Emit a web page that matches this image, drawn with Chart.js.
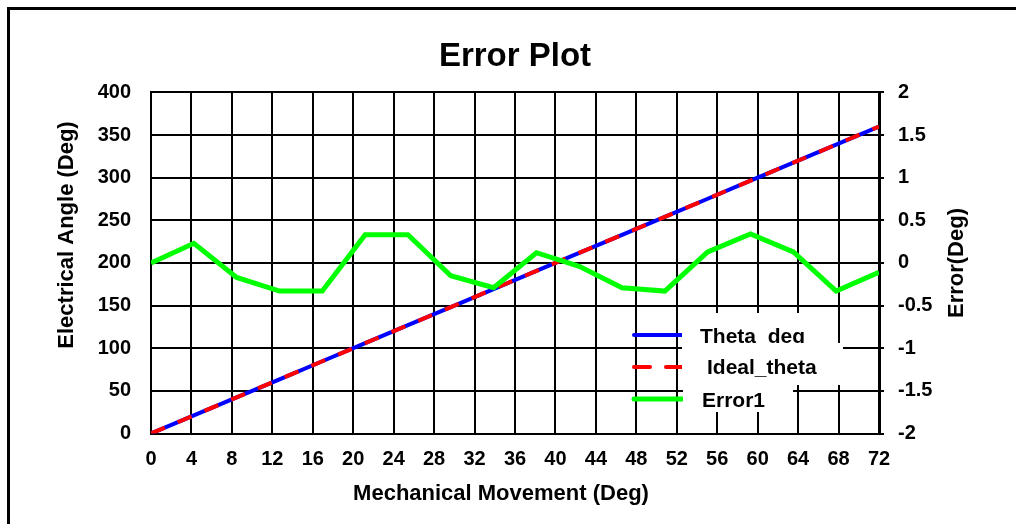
<!DOCTYPE html>
<html>
<head>
<meta charset="utf-8">
<script src="https://cdn.jsdelivr.net/npm/chart.js@4.4.1/dist/chart.umd.min.js"></script>
<style>
  body { margin: 0; background: #fff; }
  #errChart { display: block; }
</style>
</head>
<body>
<canvas id="errChart" width="1016" height="524"></canvas>
<script>
// mechanical movement (deg) - 18 samples across 0..72
const mechDeg = [0, 4.24, 8.47, 12.71, 16.94, 21.18, 25.41, 29.65, 33.88, 38.12, 42.35, 46.59, 50.82, 55.06, 59.29, 63.53, 67.76, 72];
const thetaDeg = [0, 21.2, 42.4, 63.5, 84.7, 105.9, 127.1, 148.2, 169.4, 190.6, 211.8, 232.9, 254.1, 275.3, 296.5, 317.6, 338.8, 360];
const idealTheta = [0, 21.2, 42.4, 63.5, 84.7, 105.9, 127.1, 148.2, 169.4, 190.6, 211.8, 232.9, 254.1, 275.3, 296.5, 317.6, 338.8, 360];
const error1 = [0.0, 0.23, -0.17, -0.33, -0.33, 0.33, 0.33, -0.15, -0.29, 0.12, -0.04, -0.29, -0.33, 0.13, 0.34, 0.13, -0.33, -0.11];

const seriesNames = ['Theta_deg', 'Ideal_theta', 'Error1'];
const seriesColors = ['#0000ff', '#ff0000', '#00ff00'];

const FONT = '"Liberation Sans", Arial, sans-serif';

function pts(ys) {
  return mechDeg.map(function(x, i) { return { x: x, y: ys[i] }; });
}

// frame + axis titles + legend drawn by hand
const extras = {
  id: 'extras',
  beforeDraw(chart) {
    const ctx = chart.ctx;
    ctx.save();
    ctx.fillStyle = '#fff';
    ctx.fillRect(0, 0, chart.width, chart.height);
    ctx.strokeStyle = '#000';
    ctx.lineWidth = 3;
    ctx.beginPath();
    ctx.moveTo(8.5, chart.height + 5);
    ctx.lineTo(8.5, 8.5);
    ctx.lineTo(chart.width + 5, 8.5);
    ctx.stroke();
    ctx.restore();
  },
  afterDraw(chart) {
    const ctx = chart.ctx;
    ctx.save();
    ctx.fillStyle = '#000';
    ctx.font = 'bold 22px ' + FONT;
    ctx.textAlign = 'center';
    ctx.textBaseline = 'middle';
    ctx.fillText('Mechanical Movement (Deg)', 501, 494);

    ctx.save();
    ctx.translate(67, 235);
    ctx.rotate(-Math.PI / 2);
    ctx.fillText('Electrical Angle (Deg)', 0, 0);
    ctx.restore();

    ctx.save();
    ctx.translate(957, 263);
    ctx.rotate(-Math.PI / 2);
    ctx.fillText('Error(Deg)', 0, 0);
    ctx.restore();

    // legend
    const rows = [
      { y: 335, mask: [682, 313, 153, 30], textX: 700, base: 343 },
      { y: 367, mask: [682, 343, 161, 42], textX: 707, base: 374 },
      { y: 399, mask: [683, 385, 110, 27], textX: 702, base: 407 }
    ];
    ctx.font = 'bold 21px ' + FONT;
    ctx.textAlign = 'left';
    ctx.textBaseline = 'alphabetic';
    rows.forEach(function(r, i) {
      ctx.lineWidth = i === 2 ? 5 : 4;
      ctx.strokeStyle = seriesColors[i];
      ctx.lineCap = 'round';
      ctx.setLineDash(i === 1 ? [16, 16] : []);
      ctx.beginPath();
      ctx.moveTo(634, r.y);
      ctx.lineTo(682, r.y);
      ctx.stroke();
      ctx.setLineDash([]);
      ctx.fillStyle = '#fff';
      ctx.fillRect(r.mask[0], r.mask[1], r.mask[2], r.mask[3]);
      ctx.fillStyle = '#000';
      ctx.fillText(seriesNames[i], r.textX, r.base);
    });
    ctx.restore();
  }
};

const tickFont = { family: FONT, size: 20, weight: 'bold' };

new Chart(document.getElementById('errChart'), {
  type: 'line',
  data: {
    datasets: [
      {
        label: seriesNames[0],
        data: pts(thetaDeg),
        borderColor: seriesColors[0],
        borderWidth: 4,
        pointRadius: 0,
        yAxisID: 'y',
        order: 3
      },
      {
        label: seriesNames[1],
        data: pts(idealTheta),
        borderColor: seriesColors[1],
        borderWidth: 4,
        borderDash: [15, 14],
        pointRadius: 0,
        yAxisID: 'y',
        order: 2
      },
      {
        label: seriesNames[2],
        data: pts(error1),
        borderColor: seriesColors[2],
        borderWidth: 5,
        borderJoinStyle: 'miter',
        pointRadius: 0,
        yAxisID: 'y2',
        order: 1
      }
    ]
  },
  options: {
    responsive: false,
    animation: false,
    devicePixelRatio: 1,
    layout: { padding: 0 },
    plugins: {
      legend: { display: false },
      tooltip: { enabled: false },
      title: {
        display: true,
        text: 'Error Plot',
        fullSize: false,
        color: '#000',
        font: { family: FONT, size: 33, weight: 'bold', lineHeight: 1.2 },
        padding: { top: 37, bottom: 15.8 }
      }
    },
    scales: {
      x: {
        type: 'linear',
        min: 0,
        max: 72,
        afterFit(s) { s.height = 90.5; },
        ticks: { stepSize: 4, autoSkip: false, maxRotation: 0, padding: 14, color: '#000', font: tickFont },
        grid: { color: '#000', lineWidth: 2, drawTicks: false },
        border: { color: '#000', width: 2 }
      },
      y: {
        position: 'left',
        min: 0,
        max: 400,
        afterFit(s) { s.width = 151; },
        ticks: { stepSize: 50, padding: 20, color: '#000', font: tickFont },
        grid: { color: '#000', lineWidth: 2, drawTicks: false },
        border: { color: '#000', width: 2 }
      },
      y2: {
        position: 'right',
        min: -2,
        max: 2,
        afterFit(s) { s.width = 137; },
        ticks: {
          stepSize: 0.5,
          padding: 14,
          color: '#000',
          font: tickFont,
          callback: function(v) { return String(Math.round(v * 10) / 10); }
        },
        grid: { drawOnChartArea: false, drawTicks: true, tickLength: 5, color: '#000', lineWidth: 2 },
        border: { color: '#000', width: 3 }
      }
    }
  },
  plugins: [extras]
});
</script>
</body>
</html>
